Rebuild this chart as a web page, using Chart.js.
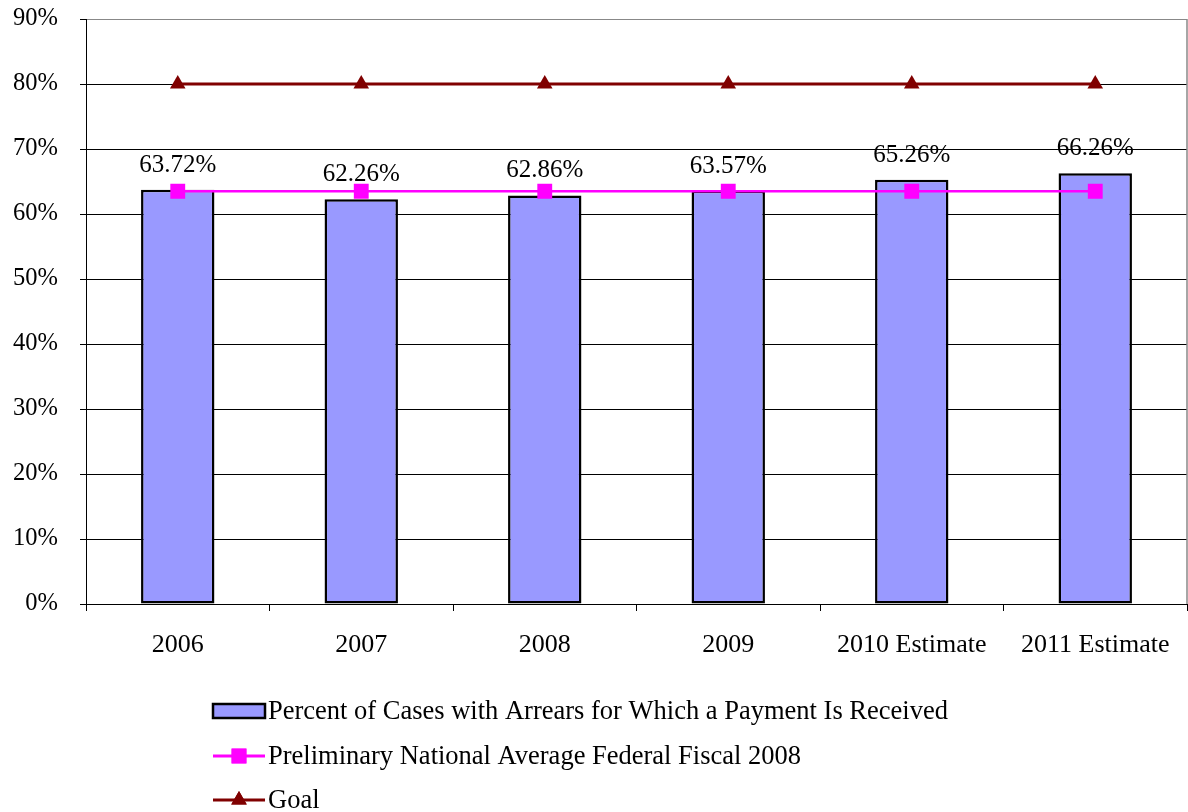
<!DOCTYPE html>
<html>
<head>
<meta charset="utf-8">
<script src="https://cdn.jsdelivr.net/npm/chart.js@4"></script>
<style>
  html, body { margin: 0; padding: 0; background: #fff; }
  #wrap { width: 1188px; height: 812px; }
</style>
</head>
<body>
<div id="wrap"><canvas id="chart" width="1188" height="812"></canvas></div>
<script>
const categories = ["2006", "2007", "2008", "2009", "2010 Estimate", "2011 Estimate"];
const paymentRate = [63.72, 62.26, 62.86, 63.57, 65.26, 66.26];
const nationalAverage = [63.5, 63.5, 63.5, 63.5, 63.5, 63.5];
const goal = [80, 80, 80, 80, 80, 80];
const seriesNames = [
  "Percent of Cases with Arrears for Which a Payment Is Received",
  "Preliminary National Average Federal Fiscal 2008",
  "Goal",
];

const FONT = "'Liberation Serif', 'Times New Roman', serif";
Chart.defaults.font.family = FONT;
Chart.defaults.font.size = 24;
Chart.defaults.color = "#000";

// gray frame on the right side of the plot
const plotFrame = {
  id: "plotFrame",
  beforeDatasetsDraw(chart) {
    const a = chart.chartArea;
    const ctx = chart.ctx;
    ctx.save();
    ctx.strokeStyle = "#888";
    ctx.lineWidth = 1.5;
    ctx.beginPath();
    ctx.moveTo(a.right, a.top);
    ctx.lineTo(a.right, a.bottom);
    ctx.stroke();
    ctx.restore();
  },
};

// values printed above each bar
const barLabels = {
  id: "barLabels",
  afterDatasetsDraw(chart) {
    const ctx = chart.ctx;
    const meta = chart.getDatasetMeta(2);
    ctx.save();
    ctx.font = "25px " + FONT;
    ctx.fillStyle = "#000";
    ctx.textAlign = "center";
    ctx.textBaseline = "alphabetic";
    meta.data.forEach(function (bar, i) {
      ctx.fillText(paymentRate[i].toFixed(2) + "%", bar.x, bar.y - 18);
    });
    ctx.restore();
  },
};

// stacked legend under the plot
const stackedLegend = {
  id: "stackedLegend",
  afterDraw(chart) {
    const ctx = chart.ctx;
    const x0 = 213, x1 = 265, rows = [711, 756, 800];
    ctx.save();
    ctx.font = "26.5px " + FONT;
    ctx.textBaseline = "middle";
    ctx.textAlign = "left";

    // bar swatch
    ctx.fillStyle = "#9999FF";
    ctx.fillRect(x0, rows[0] - 7, x1 - x0, 14);
    ctx.strokeStyle = "#000";
    ctx.lineWidth = 2.5;
    ctx.strokeRect(x0, rows[0] - 7, x1 - x0, 14);

    // line swatches
    const lines = [
      { y: rows[1], color: "#FF00FF", style: "rect", r: 10.5 },
      { y: rows[2], color: "#800000", style: "triangle", r: 9 },
    ];
    lines.forEach(function (l) {
      ctx.strokeStyle = l.color;
      ctx.lineWidth = 3;
      ctx.beginPath();
      ctx.moveTo(x0, l.y);
      ctx.lineTo(x1, l.y);
      ctx.stroke();
      ctx.fillStyle = l.color;
      Chart.helpers.drawPoint(ctx, { pointStyle: l.style, radius: l.r, rotation: 0, borderWidth: 0 }, (x0 + x1) / 2, l.y);
      ctx.fill();
    });

    ctx.fillStyle = "#000";
    seriesNames.forEach(function (name, i) {
      ctx.fillText(name, 268, rows[i] + 1);
    });
    ctx.restore();
  },
};

new Chart(document.getElementById("chart"), {
  type: "bar",
  data: {
    labels: categories,
    datasets: [
      {
        type: "line",
        label: seriesNames[2],
        data: goal,
        borderColor: "#800000",
        backgroundColor: "#800000",
        borderWidth: 3,
        pointStyle: "triangle",
        pointRadius: 9,
        pointBorderWidth: 0,
        order: 1,
      },
      {
        type: "line",
        label: seriesNames[1],
        data: nationalAverage,
        borderColor: "#FF00FF",
        backgroundColor: "#FF00FF",
        borderWidth: 2.5,
        pointStyle: "rect",
        pointRadius: 10.5,
        pointBorderWidth: 0,
        order: 2,
      },
      {
        label: seriesNames[0],
        data: paymentRate,
        backgroundColor: "#9999FF",
        borderColor: "#000",
        borderWidth: 2.5,
        borderSkipped: false,
        barPercentage: 0.4,
        categoryPercentage: 1,
        order: 3,
      },
    ],
  },
  options: {
    responsive: false,
    animation: false,
    layout: { autoPadding: false, padding: { top: 19, right: 1, left: 0, bottom: 0 } },
    plugins: {
      legend: { display: false },
      tooltip: { enabled: false },
    },
    scales: {
      x: {
        afterFit: function (s) {
          s.height = 208;
          s.paddingLeft = 0;
          s.paddingRight = 0;
        },
        grid: {
          drawOnChartArea: false,
          drawTicks: true,
          tickLength: 7,
          color: "#000",
        },
        border: { color: "#000", width: 1 },
        ticks: { padding: 19, font: { size: 26 } },
      },
      y: {
        min: 0,
        max: 90,
        afterFit: function (s) {
          s.width = 86;
          s.paddingTop = 0;
          s.paddingBottom = 0;
        },
        grid: {
          color: function (c) { return c.tick && c.tick.value === 90 ? "#888" : "#000"; },
          tickLength: 6,
          tickColor: "#000",
        },
        border: { color: "#000", width: 1 },
        ticks: {
          stepSize: 10,
          padding: 22,
          font: { size: 24.5 },
          callback: function (v) { return v + "%"; },
        },
      },
    },
  },
  plugins: [plotFrame, barLabels, stackedLegend],
});
</script>
</body>
</html>
